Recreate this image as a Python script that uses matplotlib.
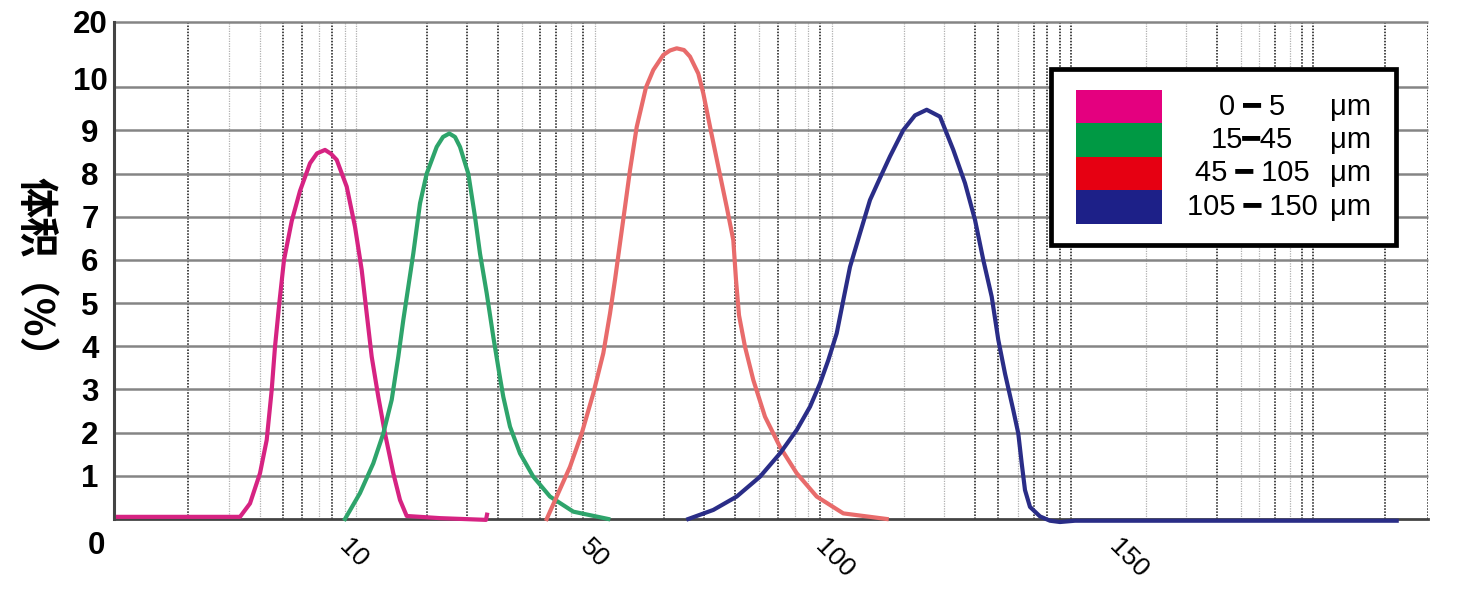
import numpy as np
import matplotlib.pyplot as plt
import matplotlib.transforms as mtransforms
from matplotlib.patches import Rectangle

# curve data, x = position along the (schematic) size axis, y = volume %
pink_x = [118, 240, 250, 260, 266.7, 271.7, 275, 279.3, 284, 291.7, 300, 310, 317, 325, 331, 336.7,
          346.7, 355, 361.7, 366.7, 371.7, 378.3, 385, 393.3, 400, 406.7, 440, 486, 487]
pink_y = [0.05, 0.05, 0.36, 1.06, 1.83, 2.99, 3.99, 5.0, 6.0, 6.9, 7.6, 8.24, 8.47, 8.55, 8.46, 8.32,
          7.7, 6.77, 5.77, 4.76, 3.76, 2.83, 1.98, 1.06, 0.44, 0.07, 0.02, -0.02, 0.1]

green_x = [345, 360, 373.3, 383.3, 391.7, 398.3, 403.3, 408.3, 413.3, 420, 426.7, 436.7, 443, 449.3,
           455, 460, 468.3, 475, 480, 486.7, 493.3, 499.3, 503.3, 510, 520, 533.3, 550, 573.3, 608.3]
green_y = [0, 0.6, 1.29, 1.98, 2.76, 3.76, 4.61, 5.38, 6.15, 7.31, 8.0, 8.62, 8.85, 8.93,
           8.85, 8.62, 8.0, 7.0, 6.15, 5.23, 4.22, 3.37, 2.83, 2.14, 1.52, 0.98, 0.52, 0.17, 0]

red_x = [546.7, 556.7, 570, 581.7, 593.3, 603.3, 610, 615, 620, 625, 630, 636.7, 646, 653.3, 663.3,
         670, 676.7, 684, 690, 698.3, 703.3, 710, 718.3, 726.7, 733.3, 736, 739, 745, 753.3, 765,
         780, 796.7, 816.7, 843.3, 886.7]
red_y = [0, 0.52, 1.21, 1.98, 2.91, 3.84, 4.76, 5.54, 6.39, 7.23, 8.08, 9.08, 10.0, 12.65, 14.95,
         15.64, 15.97, 15.71, 14.7, 12.1, 9.86, 9.09, 8.16, 7.23, 6.46, 5.54, 4.72, 3.99, 3.22, 2.37,
         1.67, 1.06, 0.52, 0.13, 0]

blue_x = [688.3, 713.3, 736.7, 760, 780, 796.7, 810, 820, 828.3, 836.7, 843.3, 850, 860, 870, 880,
          890, 903.3, 915, 926.7, 940, 953.3, 965, 975, 983.3, 991.7, 998.3, 1005, 1013.3, 1018.3,
          1021.7, 1025, 1030, 1040, 1050, 1060, 1075, 1396.7]
blue_y = [0, 0.21, 0.52, 0.98, 1.52, 2.06, 2.6, 3.14, 3.68, 4.3, 5.07, 5.84, 6.62, 7.39, 7.9,
          8.4, 9.01, 9.35, 9.48, 9.32, 8.55, 7.78, 6.93, 6.0, 5.15, 4.15, 3.37, 2.52, 1.98,
          1.29, 0.67, 0.28, 0.06, -0.04, -0.07, -0.04, -0.04]

series = [(pink_x, pink_y), (green_x, green_y), (red_x, red_y), (blue_x, blue_y)]
line_colors = ['#d62382', '#2ea46b', '#e86b6b', '#2a2d87']
legend_labels = ['0 ━ 5', '15━45', '45 ━ 105', '105 ━ 150']
legend_colors = ['#e4007f', '#009944', '#e60012', '#1d2088']

y_ticks = [1, 2, 3, 4, 5, 6, 7, 8, 9, 10, 20]
x_tick_pos = [353.5, 594, 834, 1128.5]
x_tick_labels = ['10', '50', '100', '150']

# vertical grid (dark / light dotted)
vdark = [188.3, 282.7, 301.7, 332, 427, 466.7, 497.7, 540.3, 556.3, 583, 664.3, 704.3, 735, 777.7,
         820.3, 975, 997.7, 1033.7, 1047.3, 1060.3, 1071, 1216.7, 1275, 1301.7, 1312.7, 1385, 1427.7]
vlight = [229.3, 260, 319, 345.3, 356, 521.7, 571, 595, 759.3, 795, 808.3, 832.3, 904.3, 944.3,
          1018.3, 1145.7, 1186, 1240.7, 1259, 1290]

K = 0.1513  # the 10-20 band is compressed


def fwd(y):
    y = np.asarray(y, float)
    return np.where(y <= 10, y, 10 + (y - 10) * K)


def inv(u):
    u = np.asarray(u, float)
    return np.where(u <= 10, u, 10 + (u - 10) / K)


fam = ['Liberation Sans', 'DejaVu Sans']
plt.rcParams['font.family'] = fam

fig = plt.figure(figsize=(14.57, 5.91), dpi=100)
ax = fig.add_axes([0.07845, 0.12183, 0.90144, 0.84095])
ax.set_yscale('function', functions=(fwd, inv))
ax.set_xlim(114.3, 1427.7)
ax.set_ylim(0, 20)

ax.vlines(vlight, 0, 20, colors='#b0b0b0', linestyles=(0, (1, 1)), lw=0.9, zorder=1)
ax.vlines(vdark, 0, 20, colors='#111111', linestyles=(0, (1, 1)), lw=1.1, zorder=1)
ax.hlines(y_ticks, 114.3, 1427.7, colors='#858585', lw=1.8, zorder=2, clip_on=False)

for (xs, ys), c in zip(series, line_colors):
    ax.plot(xs, ys, color=c, lw=3.0, zorder=4, clip_on=False, solid_joinstyle='round')

for s in ['top', 'right']:
    ax.spines[s].set_visible(False)
ax.spines['left'].set_color('#444444')
ax.spines['left'].set_linewidth(2.2)
ax.spines['bottom'].set_color('#444444')
ax.spines['bottom'].set_linewidth(2.0)

ax.set_yticks(y_ticks)
ax.set_yticklabels([str(v) for v in y_ticks], fontsize=22.5, fontweight='bold')
ax.yaxis.set_minor_locator(plt.NullLocator())
ax.tick_params(axis='y', length=0, pad=17.5)
for lab in ax.get_yticklabels():
    lab.set_ha('center')
# the "10" label sits a little above its line
lab10 = ax.yaxis.get_major_ticks()[9].label1
lab10.set_transform(lab10.get_transform() + mtransforms.ScaledTranslation(0, 0.09, fig.dpi_scale_trans))

ax.set_xticks(x_tick_pos)
ax.set_xticklabels(x_tick_labels, fontsize=19, rotation=-45, ha='center', va='top')
ax.tick_params(axis='x', length=0, pad=11)

ax.text(-0.0139, -0.0543, '0', transform=ax.transAxes, fontsize=22.5, fontweight='bold',
        ha='center', va='center')
ax.text(-0.0604, 0.487, '体积（%）', transform=ax.transAxes, fontsize=29, fontweight='bold',
        family=['Noto Sans CJK SC', 'DejaVu Sans'], rotation=-90, ha='center', va='center')

# legend box
ax.add_patch(Rectangle((0.7132, 0.5513), 0.2627, 0.3551, transform=ax.transAxes, fill=True,
                       facecolor='white', edgecolor='black', lw=3.4, zorder=6, clip_on=False))
y0, h = 0.8632, 0.0672
for i, (lab, c) in enumerate(zip(legend_labels, legend_colors)):
    ax.add_patch(Rectangle((0.7322, y0 - (i + 1) * h), 0.0655, h, transform=ax.transAxes,
                           facecolor=c, edgecolor='none', zorder=7, clip_on=False))
    ax.text(0.8663, y0 - (i + 0.5) * h, lab, transform=ax.transAxes, fontsize=21,
            ha='center', va='center', zorder=8)
    ax.text(0.9255, y0 - (i + 0.5) * h, 'μm', transform=ax.transAxes, fontsize=21,
            ha='left', va='center', zorder=8)

fig.savefig('out.png', dpi=100)
